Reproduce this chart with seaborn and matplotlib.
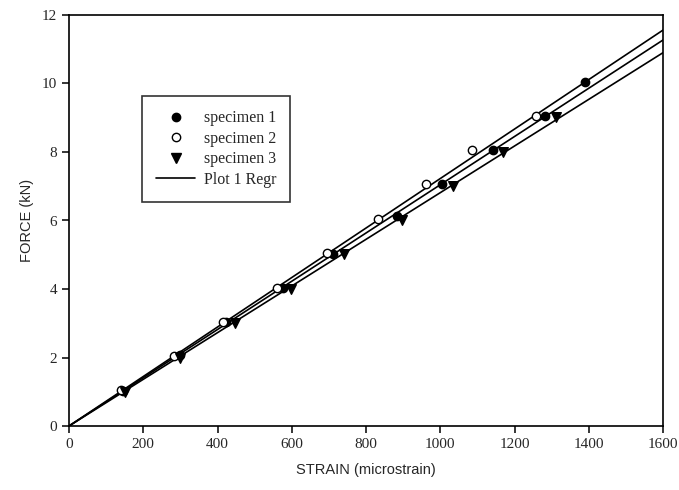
import numpy as np
import pandas as pd
import matplotlib.pyplot as plt
import matplotlib.lines as mlines
import seaborn as sns

# strain (microstrain) and force (kN)
strain_1 = [145, 299, 422, 576, 711, 883, 1004, 1141, 1281, 1390]
force_1 = [1.03, 2.07, 3.04, 4.02, 5.03, 6.13, 7.07, 8.06, 9.05, 10.05]
strain_2 = [141, 283, 415, 560, 695, 832, 962, 1085, 1259]
force_2 = [1.05, 2.05, 3.04, 4.04, 5.05, 6.04, 7.08, 8.06, 9.05]
strain_3 = [151, 300, 446, 598, 741, 896, 1034, 1170, 1312]
force_3 = [1.0, 2.0, 3.0, 4.0, 5.02, 6.02, 7.0, 8.0, 9.02]

# regression lines (force at 0 and 1600 microstrain)
reg_x = [0, 1600]
reg_end = [11.27, 11.56, 10.90]

specimens = ["specimen 1", "specimen 2", "specimen 3"]

df = pd.concat([
    pd.DataFrame({"strain": s, "force": f, "specimen": n})
    for s, f, n in zip([strain_1, strain_2, strain_3], [force_1, force_2, force_3], specimens)
])
reg = pd.concat([
    pd.DataFrame({"strain": reg_x, "force": [0, e], "specimen": n})
    for e, n in zip(reg_end, specimens)
])

sns.set_style("ticks")
plt.rcParams["font.family"] = ["Liberation Serif", "DejaVu Serif"]

fig = plt.figure(figsize=(6.79, 4.90), dpi=100)
ax = fig.add_axes([0.1016, 0.1306, 0.8749, 0.8388])

for n in specimens:
    sns.lineplot(data=reg[reg.specimen == n], x="strain", y="force",
                 color="black", lw=1.2, ax=ax, legend=False)

styles = {
    "specimen 1": dict(marker="o", facecolor="black", s=36),
    "specimen 2": dict(marker="o", facecolor="white", s=36),
    "specimen 3": dict(marker="v", facecolor="black", s=48),
}
for n in specimens:
    st = styles[n]
    sns.scatterplot(data=df[df.specimen == n], x="strain", y="force",
                    marker=st["marker"], color=st["facecolor"], edgecolor="black",
                    linewidth=1.0, s=st["s"], ax=ax, zorder=3, legend=False)

ax.set_xlim(0, 1600)
ax.set_ylim(0, 12)
ax.set_xticks(range(0, 1601, 200))
ax.set_yticks(range(0, 13, 2))
ax.tick_params(direction="out", length=5, width=1.1, labelsize=11, color="black",
               top=False, right=False)
for sp in ax.spines.values():
    sp.set_linewidth(1.2)
    sp.set_color("black")

ax.set_xlabel("STRAIN (microstrain)", family="Liberation Sans", fontsize=10.5, labelpad=9)
ax.set_ylabel("FORCE (kN)", family="Liberation Sans", fontsize=10.5, labelpad=6)

handles = [
    mlines.Line2D([], [], ls="none", marker="o", color="black", markersize=6),
    mlines.Line2D([], [], ls="none", marker="o", markerfacecolor="white",
                  markeredgecolor="black", markersize=6),
    mlines.Line2D([], [], ls="none", marker="v", color="black", markersize=7),
    mlines.Line2D([], [], color="black", lw=1.2),
]
leg = ax.legend(handles, specimens + ["Plot 1 Regr"], loc="upper left",
                bbox_to_anchor=(0.123, 0.803), borderaxespad=0, fontsize=11.5,
                frameon=True, fancybox=False, edgecolor="black",
                handlelength=2.4, handletextpad=0.55, labelspacing=0.28,
                borderpad=0.9)
leg.get_frame().set_linewidth(1.2)

plt.savefig("out.png", dpi=100)
plt.close()
